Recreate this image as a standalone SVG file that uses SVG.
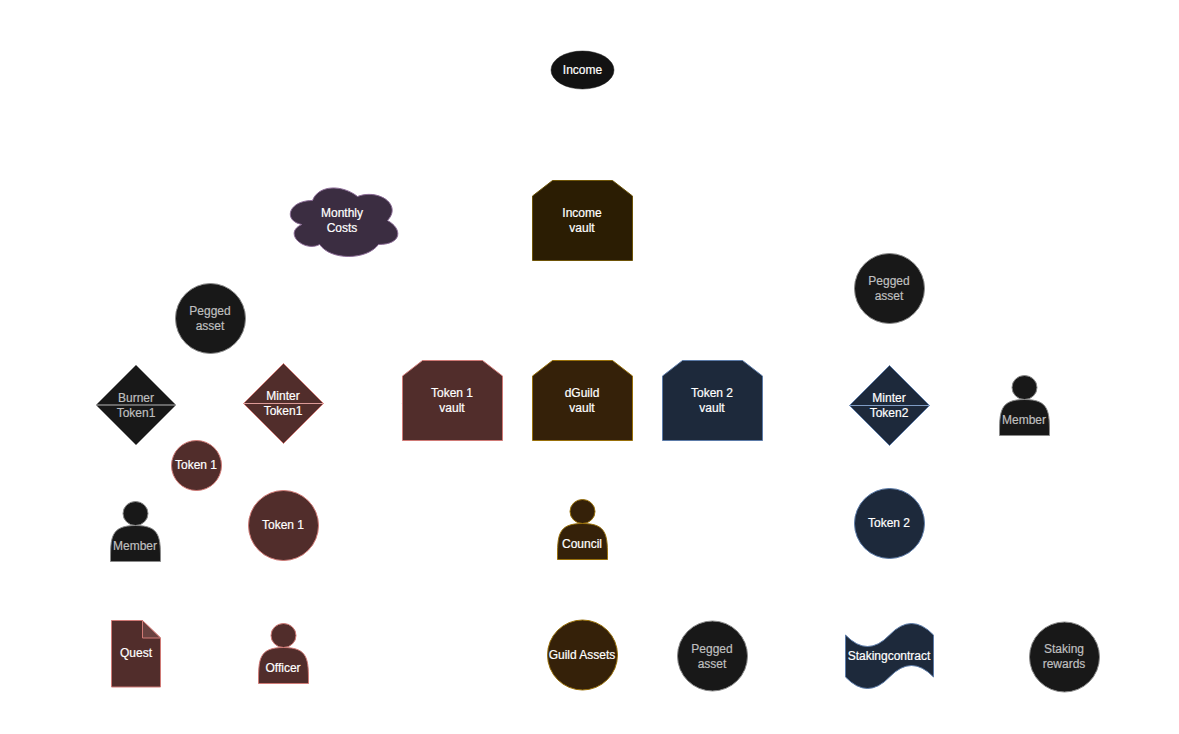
<svg xmlns="http://www.w3.org/2000/svg" width="1179" height="734" viewBox="0 0 1179 734">
<defs>
<style>
text{font-family:"Liberation Sans",Arial,sans-serif;font-size:12px;text-anchor:middle;fill:#fff;stroke:#fff;stroke-width:.2px}
.g text,text.g{fill:#bfbfbf;stroke:#bfbfbf}
.k{fill:#181818;stroke:#8a8a8a}
.r{fill:#512d2b;stroke:#d07a76}
.b{fill:#1d293b;stroke:#5c7ba8}
.y{fill:#352109;stroke:#99700a}
.i{fill:#2b1d03;stroke:#6e5408}
.c{fill:#3b2d41;stroke:#8b6b96}
.l{stroke-width:1;fill:none}
</style>
<path id="v" d="M0 15.5 20 0H80L100 15.5V80H0Z"/>
<g id="a"><ellipse cx="25" cy="12" rx="12.5" ry="12"/><path d="M0 60C0 36 0 24 25 24S50 36 50 60Z"/></g>
</defs>
<g id="connectors"><path d="M401.5 403.5H403.5" stroke="#e6e6e6" fill="none"/></g>
<g id="income"><ellipse cx="582.5" cy="70" rx="31.500" ry="19" fill="#121212" stroke="#181818" stroke-width=".5"/><text x="582.5" y="74">Income</text></g>
<g id="income-vault"><use href="#v" x="532.5" y="180.5" class="i"/><text x="582" y="217">Income</text><text x="582" y="232">vault</text></g>
<g id="monthly-costs"><path class="c" d="M312.5 200.5C288.500 200.500 282.500 220.500 301.700 224.500C282.500 233.300 304.100 252.500 319.700 244.500C330.500 260.500 366.500 260.500 378.500 244.500C402.500 244.500 402.500 228.500 387.500 220.500C402.500 204.500 378.500 188.500 357.500 196.500C342.500 184.500 318.500 184.500 312.500 200.500Z"/><text x="342" y="217">Monthly</text><text x="342" y="232">Costs</text></g>
<g id="pegged-left" class="g"><circle class="k" cx="210.500" cy="318.500" r="35"/><text x="210" y="315">Pegged</text><text x="210" y="330">asset</text></g>
<g id="burner" class="g"><path class="k" d="M136 365 176 405 136 445 96 405Z"/><path class="l" stroke="#b8b8b8" d="M96 405H176"/><text x="136" y="402">Burner</text><text x="136" y="417">Token1</text></g>
<g id="minter1"><path class="r" d="M283.500 363.500 323.500 403.500 283.500 443.500 243.500 403.500Z"/><path class="l" stroke="#dc9a98" d="M243.500 403.500H323.500"/><text x="283" y="400">Minter</text><text x="283" y="415">Token1</text></g>
<g id="token1-small"><circle class="r" cx="196.500" cy="465.500" r="25"/><text x="196" y="469">Token 1</text></g>
<g id="token1"><circle class="r" cx="283.500" cy="525.500" r="35"/><text x="283" y="529">Token 1</text></g>
<g id="member-left" class="g"><use href="#a" x="110.500" y="501.500" class="k"/><text x="135" y="550">Member</text></g>
<g id="quest"><path class="r" d="M111.500 620.500H142.500L160.500 638V687H111.500Z"/><path d="M142.500 620.500V638H160.500Z" fill="#694240" stroke="#d07a76"/><text x="136" y="657">Quest</text></g>
<g id="officer"><use href="#a" x="258.500" y="623.500" class="r"/><text x="283" y="672">Officer</text></g>
<g id="token1-vault"><use href="#v" x="402.500" y="360.500" class="r"/><text x="452" y="397">Token 1</text><text x="452" y="412">vault</text></g>
<g id="dguild-vault"><use href="#v" x="532.500" y="360.500" class="y"/><text x="582" y="397">dGuild</text><text x="582" y="412">vault</text></g>
<g id="token2-vault"><use href="#v" x="662.500" y="360.500" class="b"/><text x="712" y="397">Token 2</text><text x="712" y="412">vault</text></g>
<g id="council"><use href="#a" x="557.500" y="499.500" class="y"/><text x="582" y="548">Council</text></g>
<g id="guild-assets"><circle class="y" cx="582.500" cy="655" r="35"/><text x="582" y="659">Guild Assets</text></g>
<g id="pegged-bottom" class="g"><circle class="k" cx="712.500" cy="656" r="35"/><text x="712" y="653">Pegged</text><text x="712" y="668">asset</text></g>
<g id="pegged-right" class="g"><circle class="k" cx="889.500" cy="288.500" r="35"/><text x="889" y="285">Pegged</text><text x="889" y="300">asset</text></g>
<g id="minter2"><path class="b" d="M889.500 365.500 929.500 405.500 889.500 445.500 849.500 405.500Z"/><path class="l" stroke="#7f9cc4" d="M849.500 405.500H929.500"/><text x="889" y="402">Minter</text><text x="889" y="417">Token2</text></g>
<g id="token2"><circle class="b" cx="889.500" cy="523.500" r="35"/><text x="889" y="527">Token 2</text></g>
<g id="member-right" class="g"><use href="#a" x="999.500" y="375.500" class="k"/><text x="1024" y="424">Member</text></g>
<g id="staking-contract"><path class="b" d="M845.500 635Q867.500 658 889.500 635T933.500 635V677Q911.500 654 889.500 677T845.500 677Z"/><text x="889" y="660">Stakingcontract</text></g>
<g id="staking-rewards" class="g"><circle class="k" cx="1064.500" cy="657" r="35"/><text x="1064" y="653">Staking</text><text x="1064" y="668">rewards</text></g>
</svg>
